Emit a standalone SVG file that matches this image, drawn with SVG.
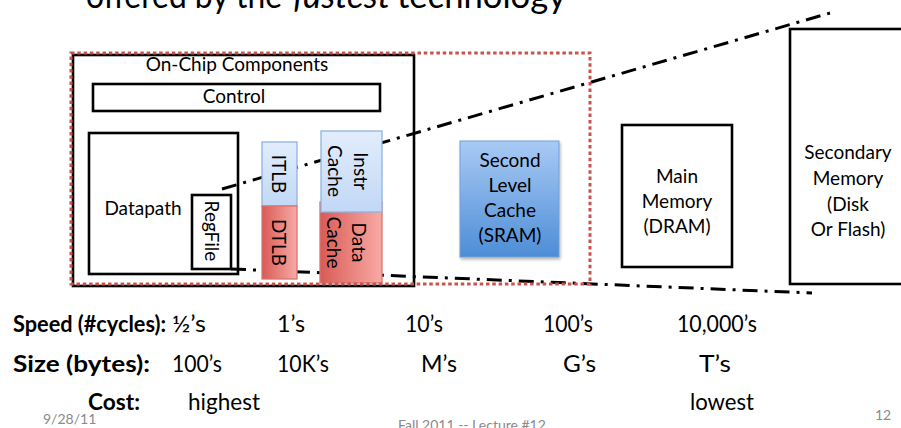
<svg xmlns="http://www.w3.org/2000/svg" width="901" height="428" viewBox="0 0 901 428">
<defs>
<style>
text{font-family:Lato,"Liberation Sans",sans-serif;fill:#000}
.lbl{font-size:19px;text-anchor:middle}
.box{fill:#fff;stroke:#000;stroke-width:2.6}
.blue{stroke:#8eb4e3;stroke-width:1.3}
.red{stroke:#d9736f;stroke-width:1.3}
.dd{fill:none;stroke:#000;stroke-width:3;stroke-dasharray:15 7 3 7}
.row{font-size:23px}
.hdr{font-size:23px;font-weight:bold}
.foot{font-size:14px;fill:#8a8a8a}
</style>
<linearGradient id="gBlue" x1="0" y1="0" x2="0" y2="1">
<stop offset="0" stop-color="#e2edfc"/><stop offset="1" stop-color="#c2d8f6"/>
</linearGradient>
<linearGradient id="gRed" x1="0" y1="0" x2="1" y2="0">
<stop offset="0" stop-color="#d95b55"/><stop offset="1" stop-color="#f8aaa5"/>
</linearGradient>
<linearGradient id="gL2" x1="0" y1="0" x2="0" y2="1">
<stop offset="0" stop-color="#a9caf5"/><stop offset="1" stop-color="#4d8dd6"/>
</linearGradient>
<filter id="sh" x="-10%" y="-10%" width="130%" height="130%">
<feDropShadow dx="1" dy="2" stdDeviation="1.5" flood-color="#000" flood-opacity="0.3"/>
</filter>
</defs>
<rect width="901" height="428" fill="#fff"/>

<g id="title">
<text x="86" y="8" font-size="34" textLength="196" lengthAdjust="spacingAndGlyphs">offered by the</text>
<text x="293" y="8" font-size="34" font-style="italic" textLength="97" lengthAdjust="spacingAndGlyphs">fastest</text>
<text x="397" y="8" font-size="34" textLength="169" lengthAdjust="spacingAndGlyphs">technology</text>
</g>

<g id="on-chip-components">
<rect class="box" x="73" y="55" width="341" height="231"/>
<text class="lbl" x="237" y="71">On-Chip Components</text>
</g>

<g id="control">
<rect class="box" x="93" y="84" width="287" height="27" stroke-width="2.2"/>
<text class="lbl" x="234" y="103">Control</text>
</g>

<g id="datapath">
<rect class="box" x="89" y="133" width="149" height="141" stroke-width="2.2"/>
<text class="lbl" x="143" y="215">Datapath</text>
</g>

<g id="regfile">
<rect class="box" x="192" y="195" width="39" height="74" stroke-width="2.2"/>
<text class="lbl" transform="translate(212,231) rotate(90)" dominant-baseline="central">RegFile</text>
</g>

<g id="connectors">
<line class="dd" x1="222" y1="189" x2="830" y2="13"/>
<line class="dd" x1="231" y1="269" x2="812" y2="293"/>
</g>

<g id="itlb">
<rect class="blue" x="262" y="142" width="35" height="64" fill="url(#gBlue)"/>
<text class="lbl" transform="translate(279.5,174) rotate(90)" dominant-baseline="central">ITLB</text>
</g>

<g id="dtlb">
<rect class="red" x="262" y="206" width="35" height="73" fill="url(#gRed)"/>
<text class="lbl" transform="translate(279.5,242.5) rotate(90)" dominant-baseline="central">DTLB</text>
</g>

<g id="data-cache">
<rect class="red" x="320" y="202" width="62" height="81" fill="url(#gRed)"/>
<text class="lbl" transform="translate(348,242.5) rotate(90)" dominant-baseline="central"><tspan x="0" y="-12">Data</tspan><tspan x="0" y="13">Cache</tspan></text>
</g>

<g id="instr-cache">
<rect class="blue" x="321" y="131" width="61" height="81" fill="url(#gBlue)"/>
<text class="lbl" transform="translate(349,171) rotate(90)" dominant-baseline="central"><tspan x="0" y="-13">Instr</tspan><tspan x="0" y="13">Cache</tspan></text>
</g>

<g id="l2-region">
<rect x="71" y="53" width="519" height="231" fill="none" stroke="#c9524d" stroke-width="3" stroke-dasharray="3.5 2.8"/>
</g>

<g id="second-level-cache">
<rect x="460" y="141" width="99" height="116" fill="url(#gL2)" stroke="#6e9fd9" stroke-width="1" filter="url(#sh)"/>
<text class="lbl" x="510" y="167">Second</text>
<text class="lbl" x="510" y="192">Level</text>
<text class="lbl" x="510" y="217">Cache</text>
<text class="lbl" x="510" y="242">(SRAM)</text>
</g>

<g id="main-memory">
<rect class="box" x="622" y="125" width="110" height="142" stroke-width="2.8"/>
<text class="lbl" x="677" y="183">Main</text>
<text class="lbl" x="677" y="208">Memory</text>
<text class="lbl" x="677" y="233">(DRAM)</text>
</g>

<g id="secondary-memory">
<rect class="box" x="790" y="29" width="120" height="255" stroke-width="2.8"/>
<text class="lbl" x="848" y="159">Secondary</text>
<text class="lbl" x="848" y="185">Memory</text>
<text class="lbl" x="848" y="211">(Disk</text>
<text class="lbl" x="848" y="236">Or Flash)</text>
</g>

<g id="metrics">
<text class="hdr" x="13" y="332" textLength="153" lengthAdjust="spacingAndGlyphs">Speed (#cycles):</text>
<text class="row" x="172" y="332" textLength="34" lengthAdjust="spacingAndGlyphs">½’s</text>
<text class="row" x="277" y="332" textLength="28" lengthAdjust="spacingAndGlyphs">1’s</text>
<text class="row" x="405" y="332" textLength="38" lengthAdjust="spacingAndGlyphs">10’s</text>
<text class="row" x="543" y="332" textLength="50" lengthAdjust="spacingAndGlyphs">100’s</text>
<text class="row" x="677" y="332" textLength="80" lengthAdjust="spacingAndGlyphs">10,000’s</text>

<text class="hdr" x="13" y="372" textLength="137" lengthAdjust="spacingAndGlyphs">Size (bytes):</text>
<text class="row" x="172" y="372" textLength="50" lengthAdjust="spacingAndGlyphs">100’s</text>
<text class="row" x="277" y="372" textLength="52" lengthAdjust="spacingAndGlyphs">10K’s</text>
<text class="row" x="421" y="372" textLength="36" lengthAdjust="spacingAndGlyphs">M’s</text>
<text class="row" x="563" y="372" textLength="33" lengthAdjust="spacingAndGlyphs">G’s</text>
<text class="row" x="699" y="372" textLength="32" lengthAdjust="spacingAndGlyphs">T’s</text>

<text class="hdr" x="88" y="410" textLength="52" lengthAdjust="spacingAndGlyphs">Cost:</text>
<text class="row" x="188" y="410" textLength="72" lengthAdjust="spacingAndGlyphs">highest</text>
<text class="row" x="690" y="410" textLength="64" lengthAdjust="spacingAndGlyphs">lowest</text>
</g>

<g id="footer">
<text class="foot" x="43" y="424">9/28/11</text>
<text class="foot" x="398" y="430">Fall 2011 -- Lecture #12</text>
<text class="foot" x="875" y="420">12</text>
</g>
</svg>
